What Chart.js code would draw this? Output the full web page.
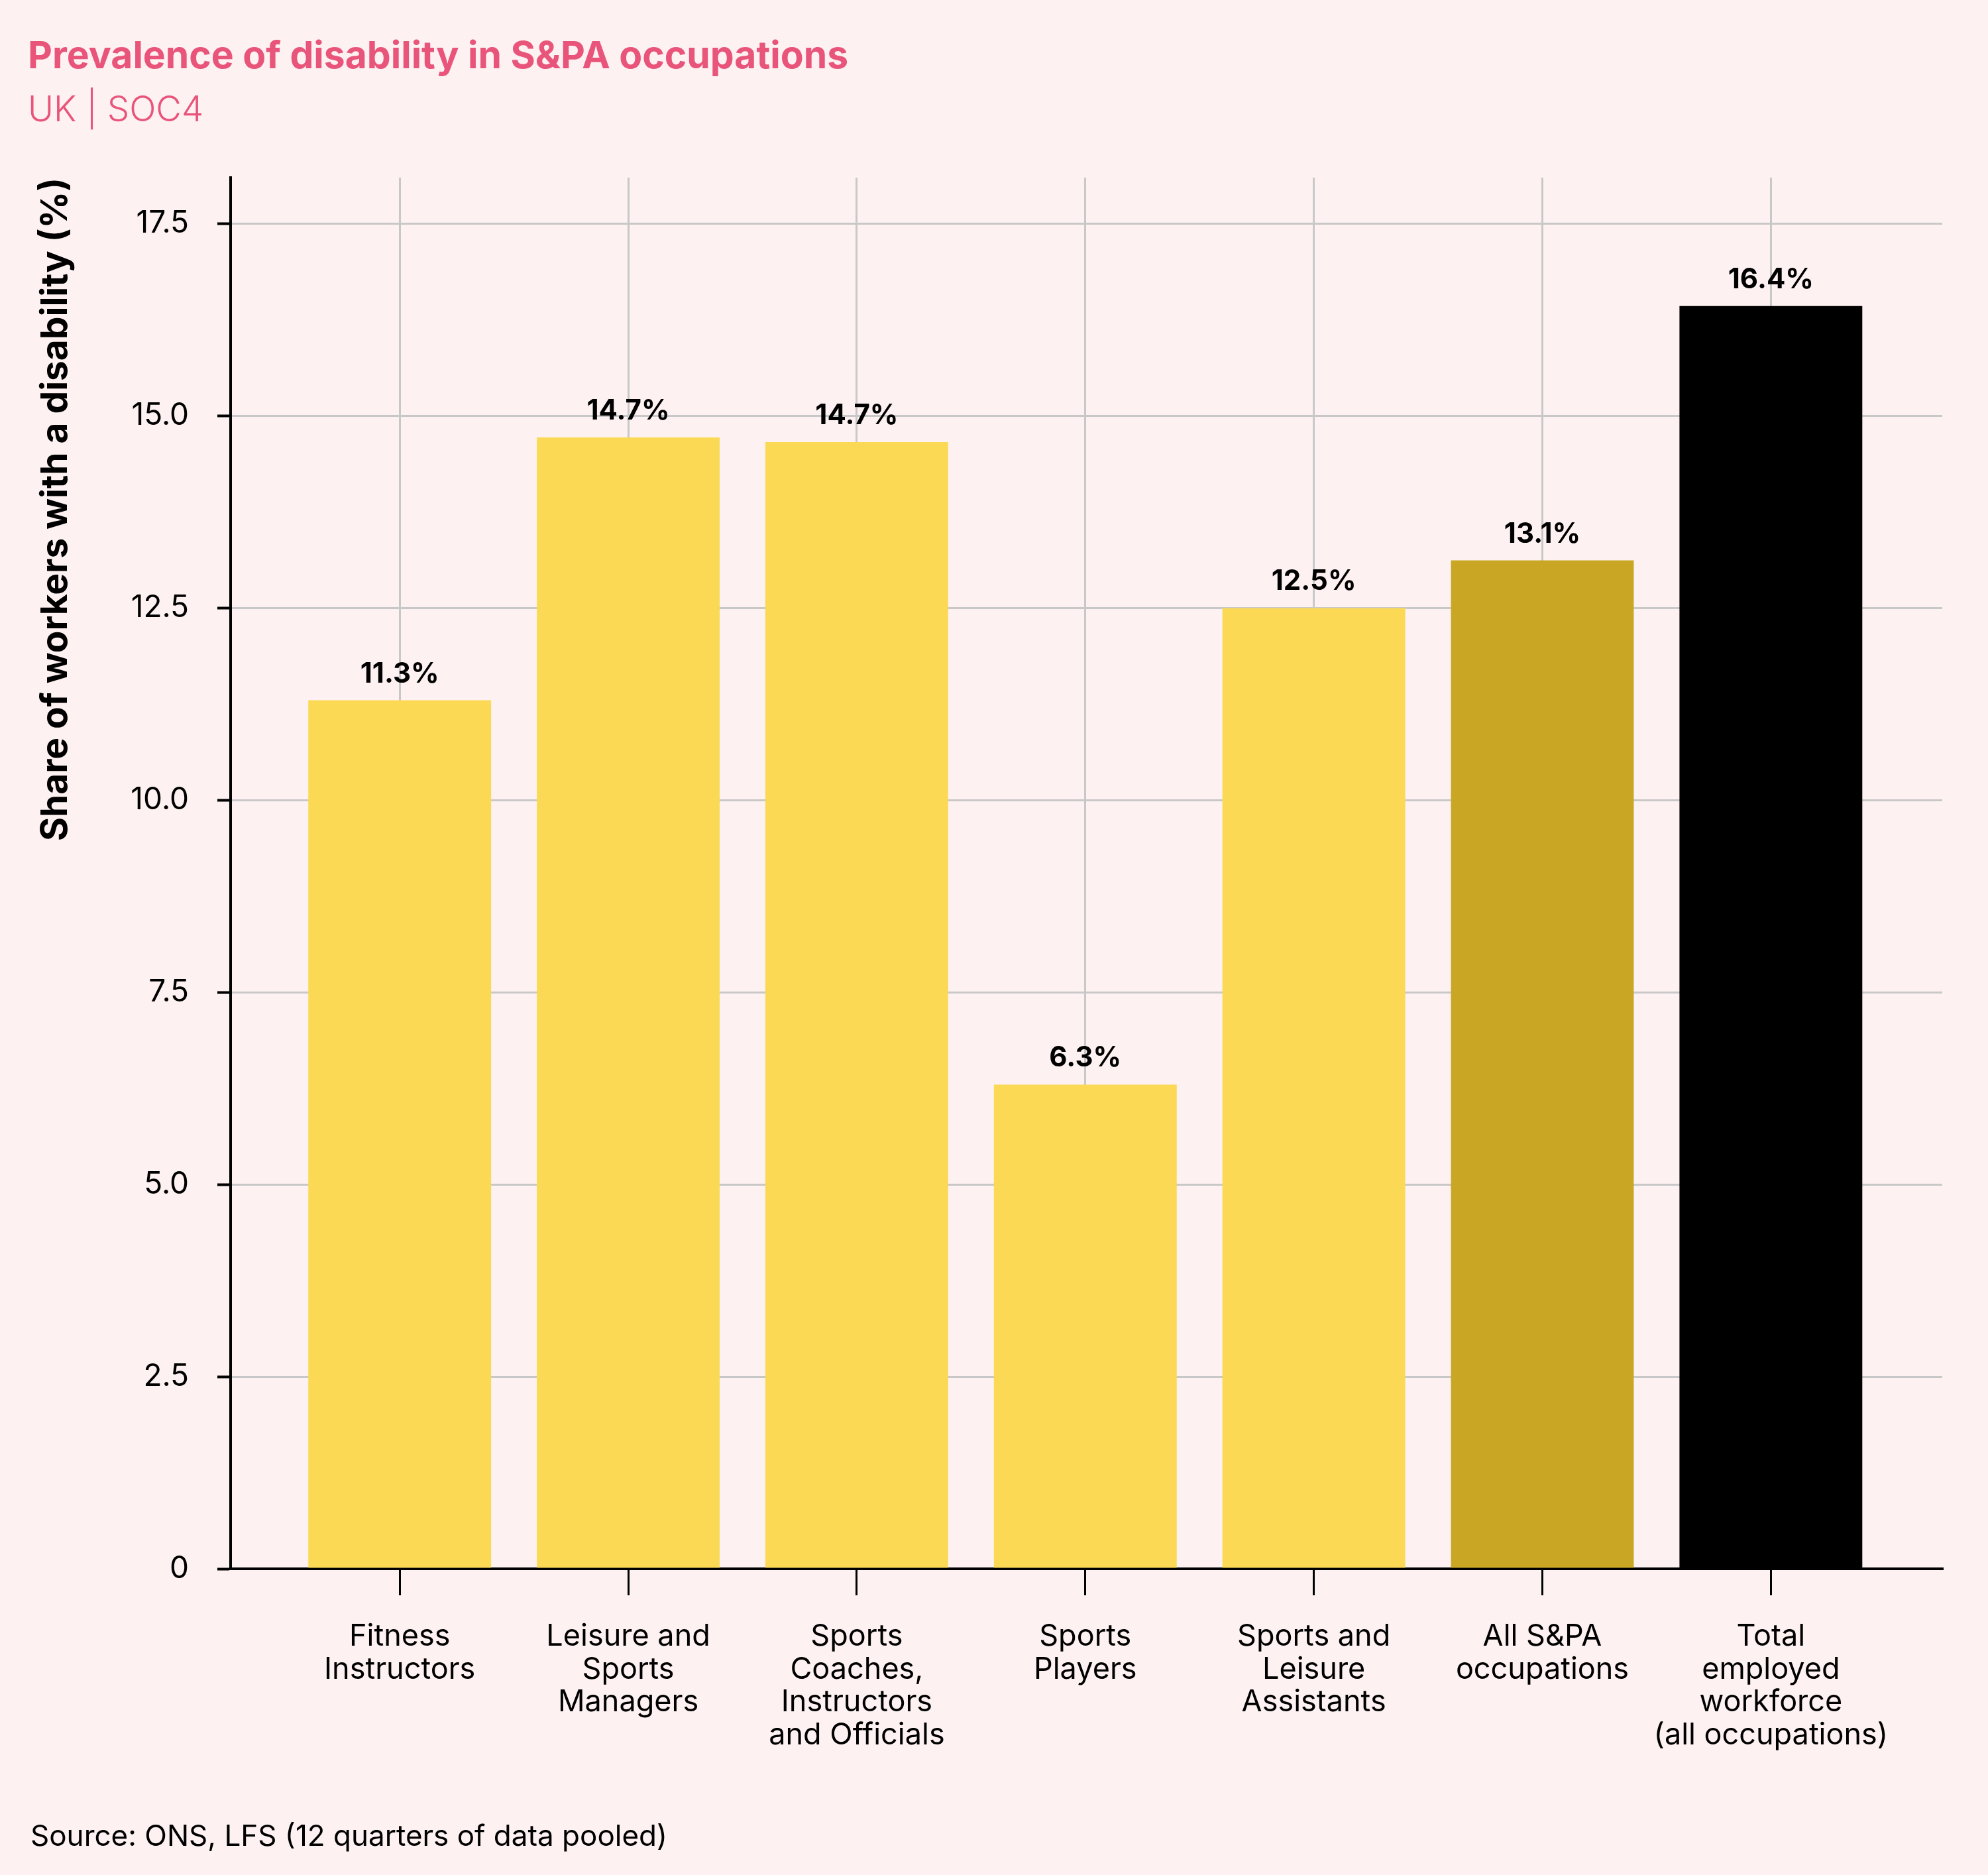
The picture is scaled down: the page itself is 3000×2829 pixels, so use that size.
<!DOCTYPE html>
<html>
<head>
<meta charset="utf-8">
<title>Prevalence of disability in S&amp;PA occupations</title>
<script src="https://cdn.jsdelivr.net/npm/chart.js@4.4.0/dist/chart.umd.min.js"></script>
<style>
  html, body { margin: 0; padding: 0; background: #fdf1f1; }
  #wrap { width: 3000px; height: 2829px; }
</style>
</head>
<body>
<div id="wrap"><canvas id="chart"></canvas></div>
<script>
// occupations (SOC4), split over lines as on the axis
var categories = [
  ["Fitness", "Instructors"],
  ["Leisure and", "Sports", "Managers"],
  ["Sports", "Coaches,", "Instructors", "and Officials"],
  ["Sports", "Players"],
  ["Sports and", "Leisure", "Assistants"],
  ["All S&PA", "occupations"],
  ["Total", "employed", "workforce", "(all occupations)"]
];
// share of workers with a disability, %
var shares = [11.3, 14.72, 14.66, 6.3, 12.5, 13.12, 16.43];
var yTicks = [0, 2.5, 5, 7.5, 10, 12.5, 15, 17.5];

var yellow = "#fbd955";
var barColors = [yellow, yellow, yellow, yellow, yellow, "#c9a724", "#000000"];

Chart.defaults.font.family = "Inter, 'Open Sans', sans-serif";
Chart.defaults.color = "#000";

// % labels above each bar
var valueLabels = {
  id: "valueLabels",
  afterDatasetsDraw: function(chart) {
    var ctx = chart.ctx;
    var meta = chart.getDatasetMeta(0);
    ctx.save();
    ctx.font = "bold 42px Inter";
    ctx.fillStyle = "#000";
    ctx.textAlign = "center";
    ctx.textBaseline = "alphabetic";
    meta.data.forEach(function(bar, i) {
      ctx.fillText(shares[i].toFixed(1) + "%", bar.x, bar.y - 27);
    });
    ctx.restore();
  }
};

// source note at the bottom
var sourceNote = {
  id: "sourceNote",
  afterDraw: function(chart) {
    var ctx = chart.ctx;
    ctx.save();
    ctx.font = "44px Inter";
    ctx.fillStyle = "#000";
    ctx.textAlign = "left";
    ctx.textBaseline = "alphabetic";
    ctx.fillText("Source: ONS, LFS (12 quarters of data pooled)", 46, chart.height - 44);
    ctx.restore();
  }
};

var ctx = document.getElementById("chart");
var chart = new Chart(ctx, {
  type: "bar",
  data: {
    datasets: [{
      data: shares.map(function(v, i) { return { x: i + 1, y: v }; }),
      backgroundColor: barColors,
      borderWidth: 0,
      categoryPercentage: 0.8,
      barPercentage: 1.0
    }]
  },
  options: {
    responsive: true,
    maintainAspectRatio: false,
    animation: false,
    layout: { padding: { left: 42, right: 69, top: 0, bottom: 160 } },
    plugins: {
      legend: { display: false },
      tooltip: { enabled: false },
      title: {
        display: true,
        text: "Prevalence of disability in S&PA occupations",
        align: "start",
        color: "#e8547a",
        font: { size: 57, weight: "bold" },
        padding: { top: 52, bottom: 10 }
      },
      subtitle: {
        display: true,
        text: "UK | SOC4",
        align: "start",
        color: "#e8547a",
        font: { size: 53, weight: "300" },
        padding: { top: 5, bottom: 69 }
      }
    },
    scales: {
      x: {
        type: "linear",
        min: 0.26,
        max: 7.75,
        offset: false,
        afterBuildTicks: function(s) {
          s.ticks = categories.map(function(c, i) { return { value: i + 1 }; });
        },
        afterFit: function(s) { s.height = 302; },
        grid: { offset: false, color: "#c8c8c8", lineWidth: 3, tickColor: "#000", tickLength: 40, tickWidth: 3 },
        border: { color: "#000", width: 4 },
        ticks: {
          color: "#000",
          padding: 38,
          autoSkip: false,
          maxRotation: 0,
          font: { size: 45, lineHeight: 1.1 },
          callback: function(v) { return categories[v - 1]; }
        }
      },
      y: {
        min: 0,
        max: 18.1,
        afterBuildTicks: function(s) {
          s.ticks = yTicks.map(function(v) { return { value: v }; });
        },
        afterFit: function(s) { s.width = 306; },
        grid: { color: "#c8c8c8", lineWidth: 3, tickColor: "#000", tickLength: 20, tickWidth: 4 },
        border: { color: "#000", width: 4 },
        ticks: {
          color: "#000",
          padding: 43,
          font: { size: 46 },
          callback: function(v) { return v === 0 ? "0" : v.toFixed(1); }
        },
        title: {
          display: true,
          text: "Share of workers with a disability (%)",
          align: "end",
          color: "#000",
          font: { size: 55, weight: "bold" },
          padding: { top: 9, bottom: 0 }
        }
      }
    }
  },
  plugins: [valueLabels, sourceNote]
});
</script>
</body>
</html>
